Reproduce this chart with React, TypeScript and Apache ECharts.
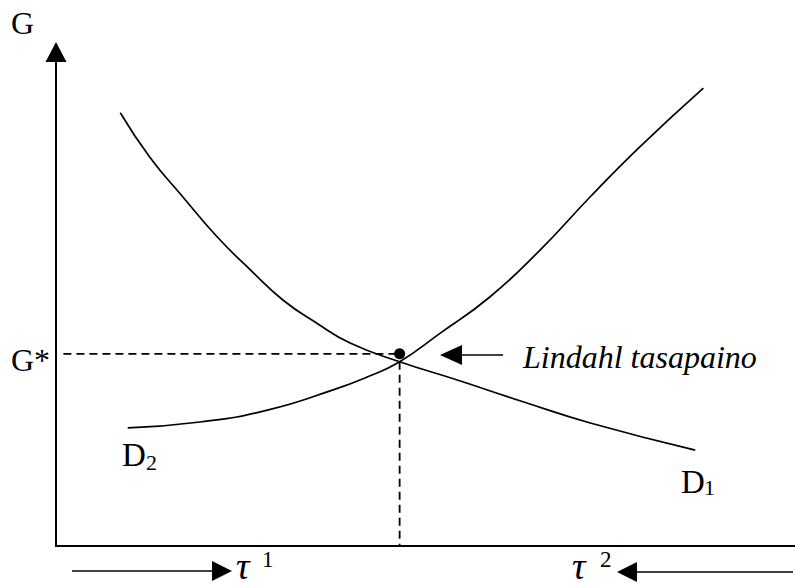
import React, { useEffect, useRef } from "react";
import * as echarts from "echarts";

// Demand curve D1 (falling) and D2 (rising), x = tax share axis (0-100), y = G (0-100)
const d1Points: [number, number][] = [
  [8.7, 87.7], [12.7, 78.7], [17.2, 70.6], [21.8, 62.6], [26.3, 55.9], [30.7, 49.8],
  [35.3, 45.1], [39.8, 41.1], [46.5, 37.3], [54.3, 33.6], [63.2, 29.2], [72.3, 24.9], [86.5, 19.4],
];
const d2Points: [number, number][] = [
  [9.7, 23.9], [19.5, 25.1], [28.6, 27.5], [37.5, 31.6], [42.1, 34.2], [46.5, 37.3],
  [52.0, 43.1], [58.7, 50.4], [65.5, 59.9], [72.3, 70.7], [79.0, 80.8], [87.6, 92.7],
];
const equilibriumX = 46.5;
const equilibriumY = 37.3;
const gStar = 38.9;
const gStarLineStart = 1;

const SERIF = '"Liberation Serif", "Times New Roman", serif';

export default function App() {
  const ref = useRef<HTMLDivElement>(null);
  useEffect(() => {
    const chart = echarts.init(ref.current!, null, { renderer: "svg" });
    const txt = (text: string, x: number, y: number, size: number, italic = false, align = "left") => ({
      type: "text",
      x,
      y,
      style: {
        text,
        font: `${italic ? "italic " : ""}${size}px ${SERIF}`,
        fill: "#000",
        align,
        verticalAlign: "middle",
        textAlign: align,
        textVerticalAlign: "middle",
      },
    });
    const arrow = (x1: number, x2: number, tip: number, base: number, y: number, h: number) => [
      { type: "line", shape: { x1, y1: y, x2, y2: y }, style: { stroke: "#000", lineWidth: 1.6 } },
      { type: "polygon", shape: { points: [[tip, y], [base, y - h], [base, y + h]] }, style: { fill: "#000" } },
    ];
    chart.setOption({
      animation: false,
      backgroundColor: "#fff",
      grid: { left: 56, right: 0, top: 52, bottom: 40 },
      xAxis: {
        type: "value",
        min: 0,
        max: 100,
        axisLine: { show: true, lineStyle: { color: "#000", width: 2 } },
        axisTick: { show: false },
        axisLabel: { show: false },
        splitLine: { show: false },
      },
      yAxis: {
        type: "value",
        min: 0,
        max: 100,
        axisLine: {
          show: true,
          lineStyle: { color: "#000", width: 2 },
          symbol: ["none", "triangle"],
          symbolSize: [21, 20],
        },
        axisTick: { show: false },
        axisLabel: { show: false },
        splitLine: { show: false },
      },
      series: [
        {
          name: "D1",
          type: "line",
          data: d1Points,
          smooth: 0.5,
          showSymbol: false,
          lineStyle: { color: "#000", width: 1.7 },
        },
        {
          name: "D2",
          type: "line",
          data: d2Points,
          smooth: 0.5,
          showSymbol: false,
          lineStyle: { color: "#000", width: 1.7 },
        },
        {
          name: "G* line",
          type: "line",
          data: [[gStarLineStart, gStar], [equilibriumX, gStar]],
          showSymbol: false,
          lineStyle: { color: "#000", width: 1.8, type: [8, 5] },
        },
        {
          name: "tau line",
          type: "line",
          data: [[equilibriumX, equilibriumY], [equilibriumX, 0]],
          showSymbol: false,
          lineStyle: { color: "#000", width: 1.8, type: [8, 5] },
        },
        {
          name: "Lindahl",
          type: "scatter",
          data: [[equilibriumX, gStar]],
          symbolSize: 11,
          itemStyle: { color: "#000", opacity: 1 },
        },
      ],
      graphic: [
        txt("G", 11, 23, 32),
        txt("G*", 11, 360, 32),
        txt("Lindahl tasapaino", 523, 357, 32, true),
        txt("D", 122, 455, 33),
        txt("2", 146, 462, 22),
        txt("D", 681, 482, 33),
        txt("1", 704, 487, 22),
        txt("τ", 236, 566, 38, true),
        txt("1", 262, 559, 23),
        txt("τ", 572, 566, 38, true),
        txt("2", 600, 559, 23),
        ...arrow(503, 460, 440, 462, 355, 10),
        ...arrow(72, 214, 232, 212, 571, 10),
        ...arrow(793, 635, 617, 637, 572, 10),
      ],
    });
    return () => chart.dispose();
  }, []);
  return (
    <div
      ref={ref}
      style={{ position: "absolute", left: 0, top: 0, width: 795, height: 586, background: "#fff" }}
    />
  );
}
